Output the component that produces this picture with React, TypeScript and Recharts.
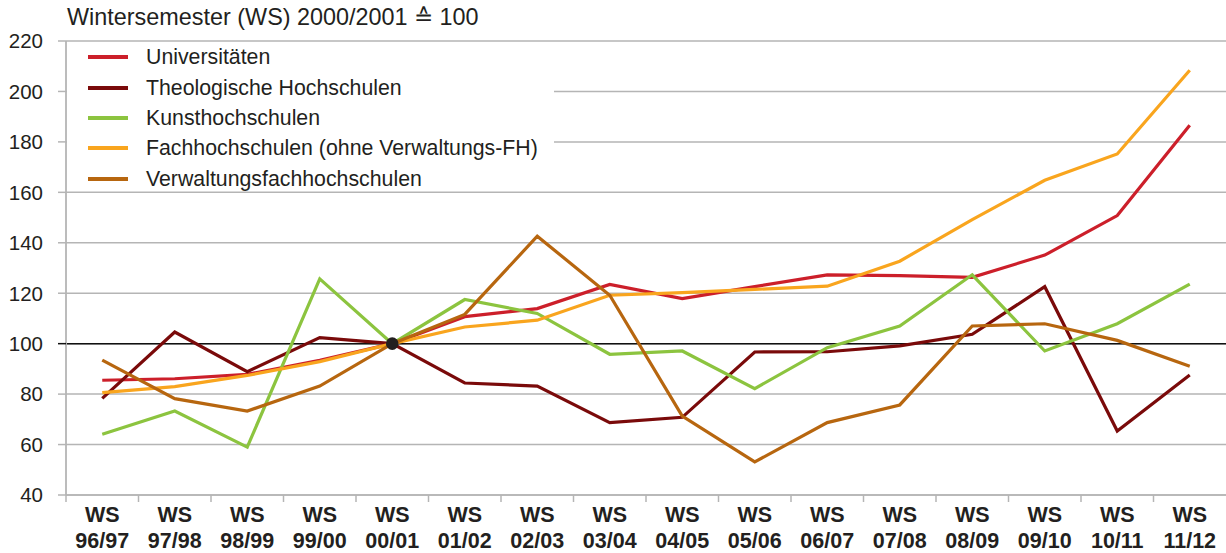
import React from 'react';
import { LineChart, Line, XAxis, YAxis, CartesianGrid, ReferenceLine, ReferenceDot, Legend } from 'recharts';

const categories = [
  'WS 96/97', 'WS 97/98', 'WS 98/99', 'WS 99/00', 'WS 00/01', 'WS 01/02', 'WS 02/03', 'WS 03/04',
  'WS 04/05', 'WS 05/06', 'WS 06/07', 'WS 07/08', 'WS 08/09', 'WS 09/10', 'WS 10/11', 'WS 11/12',
];

const universitaeten = [85.5, 86.1, 87.8, 93.4, 100, 110.7, 113.9, 123.5, 117.9, 122.6, 127.3, 127.0, 126.3, 135.1, 150.8, 186.6];
const theologische = [78.3, 104.6, 88.9, 102.4, 100, 84.4, 83.2, 68.7, 70.8, 96.7, 96.8, 99.1, 103.7, 122.6, 65.4, 87.6];
const kunst = [64.1, 73.3, 59.0, 125.7, 100, 117.5, 112.0, 95.8, 97.1, 82.2, 98.4, 107.0, 127.3, 97.1, 107.9, 123.6];
const fachhochschulen = [80.6, 83.0, 87.4, 92.9, 100, 106.6, 109.3, 119.2, 120.2, 121.5, 122.8, 132.7, 149.2, 164.8, 175.2, 208.4];
const verwaltung = [93.5, 78.2, 73.3, 83.2, 100, 111.6, 142.6, 119.2, 71.3, 53.1, 68.7, 75.7, 107.0, 107.9, 101.3, 91.0];

const yTicks = [40, 60, 80, 100, 120, 140, 160, 180, 200, 220];
const baseCategory = 'WS 00/01';
const baseValue = 100;
const title = 'Wintersemester (WS) 2000/2001 \u2259 100';

const series = [
  { key: 'uni', name: 'Universitäten', color: '#cc1f2a', values: universitaeten },
  { key: 'theo', name: 'Theologische Hochschulen', color: '#7a0a0a', values: theologische },
  { key: 'kunst', name: 'Kunsthochschulen', color: '#8cc43f', values: kunst },
  { key: 'fach', name: 'Fachhochschulen (ohne Verwaltungs-FH)', color: '#f9a51e', values: fachhochschulen },
  { key: 'verw', name: 'Verwaltungsfachhochschulen', color: '#b7660f', values: verwaltung },
];

const data = categories.map((cat, i) => {
  const row: Record<string, any> = { cat };
  series.forEach((s) => { row[s.key] = s.values[i]; });
  return row;
});

const W = 1226;
const H = 553;
const Y_AXIS_W = 66;
const PLOT_W = W - Y_AXIS_W;
const HALF_BAND = PLOT_W / categories.length / 2;
const TEXT = '#231f20';
const GRID = '#b5b5b5';
const FONT = '"Liberation Sans", Arial, Helvetica, sans-serif';

const XTick = (props: any) => {
  const { x, y, payload } = props;
  const parts = String(payload.value).split(' ');
  return (
    <g>
      <line x1={x - HALF_BAND} x2={x - HALF_BAND} y1={y} y2={y + 7} stroke={GRID} strokeWidth={1.5} />
      <text x={x} y={y + 26.5} textAnchor="middle" fontWeight="bold" fontSize={21.5} fill={TEXT}>{parts[0]}</text>
      <text x={x} y={y + 53} textAnchor="middle" fontWeight="bold" fontSize={21.5} fill={TEXT}>{parts[1]}</text>
    </g>
  );
};

const YTick = (props: any) => {
  const { x, y, payload } = props;
  const isBase = payload.value === baseValue;
  return (
    <g>
      <line x1={x + 15} x2={x + 23} y1={y} y2={y} stroke={isBase ? '#111' : GRID} strokeWidth={1.5} />
      <text x={x} y={y} dy="0.36em" textAnchor="end" fontSize={20.5} fill={TEXT}>{payload.value}</text>
    </g>
  );
};

const LegendContent = () => (
  <div style={{ position: 'relative', width: '100%', height: '100%', background: '#fff', fontFamily: FONT }}>
    {series.map((s, i) => (
      <div
        key={s.key}
        style={{
          position: 'absolute', left: 21, top: 14.3 + i * 30.3 - 15, height: 30,
          display: 'flex', alignItems: 'center', whiteSpace: 'nowrap',
        }}
      >
        <div style={{ width: 40, height: 4, background: s.color }} />
        <span style={{ marginLeft: 18, fontSize: 21.3, color: TEXT, lineHeight: '30px' }}>{s.name}</span>
      </div>
    ))}
  </div>
);

export default function App() {
  return (
    <div style={{ position: 'absolute', left: 0, top: 0, width: W, height: H, background: '#fff', fontFamily: FONT }}>
      <div style={{ position: 'absolute', left: 67, top: 6, fontSize: 23.4, lineHeight: '23px', color: TEXT, whiteSpace: 'nowrap' }}>
        {title}
      </div>
      <LineChart width={W} height={H} data={data} margin={{ top: 41, right: 0, bottom: 0, left: 0 }} style={{ fontFamily: FONT }}>
        <CartesianGrid vertical={false} stroke={GRID} strokeWidth={1.5} />
        <XAxis
          dataKey="cat"
          height={58}
          interval={0}
          tickSize={0}
          tickMargin={0}
          tickLine={false}
          padding={{ left: HALF_BAND, right: HALF_BAND }}
          axisLine={{ stroke: GRID, strokeWidth: 1.5 }}
          tick={<XTick />}
        />
        <YAxis
          width={Y_AXIS_W}
          domain={[40, 220]}
          ticks={yTicks}
          interval={0}
          tickSize={8}
          tickMargin={15}
          tickLine={false}
          axisLine={{ stroke: GRID, strokeWidth: 1.8 }}
          tick={<YTick />}
        />
        <ReferenceLine y={baseValue} stroke="#111" strokeWidth={1.5} />
        <Legend
          layout="vertical"
          align="center"
          verticalAlign="middle"
          content={<LegendContent />}
          wrapperStyle={{ left: 67, top: 43, width: 487, height: 148, right: 'auto', bottom: 'auto' }}
        />
        {series.map((s) => (
          <Line
            key={s.key}
            type="linear"
            dataKey={s.key}
            name={s.name}
            stroke={s.color}
            strokeWidth={3.2}
            dot={false}
            activeDot={false}
            isAnimationActive={false}
          />
        ))}
        <ReferenceDot x={baseCategory} y={baseValue} r={6.3} fill={TEXT} stroke="none" />
      </LineChart>
    </div>
  );
}
